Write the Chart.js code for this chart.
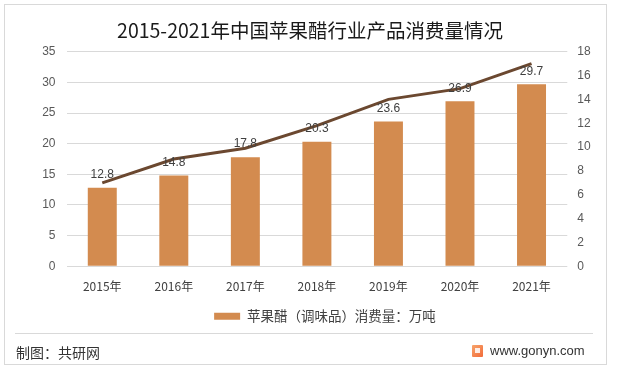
<!DOCTYPE html>
<html>
<head>
<meta charset="utf-8">
<script src="https://cdn.jsdelivr.net/npm/chart.js@4.4.1/dist/chart.umd.min.js"></script>
<style>
  html, body { margin: 0; padding: 0; background: #fff; }
  #wrap { position: relative; width: 620px; height: 375px; overflow: hidden; font-family: "Noto Sans CJK SC", "Noto Sans", sans-serif; }
  #frame { position: absolute; left: 4px; top: 4px; width: 603px; height: 361px; border: 1px solid #d9d9d9; box-sizing: border-box; pointer-events: none; }
  #sep { position: absolute; left: 15px; top: 333px; width: 578px; height: 1px; background: #d9d9d9; }
  #src { position: absolute; left: 16px; top: 342px; font-size: 14px; color: #333; line-height: 20px; }
  #site { position: absolute; left: 490px; top: 341px; font-family: "Liberation Sans", Arial, sans-serif; font-size: 13px; color: #333; line-height: 20px; }
  #logo { position: absolute; left: 472px; top: 345px; width: 11px; height: 12px; background: linear-gradient(135deg, #f7a46b, #f26b3a); border-radius: 1px; }
  #logo:after { content: ""; position: absolute; left: 3px; top: 3px; width: 5px; height: 5px; background: #fff; opacity: 0.85; }
  canvas { position: absolute; left: 0; top: 0; }
</style>
</head>
<body>
<div id="wrap">
  <canvas id="c" width="620" height="337"></canvas>
  <div id="frame"></div>
  <div id="sep"></div>
  <div id="src">制图：共研网</div>
  <div id="logo"></div>
  <div id="site">www.gonyn.com</div>
</div>
<script>
const title = "2015-2021年中国苹果醋行业产品消费量情况";
const categories = ["2015年", "2016年", "2017年", "2018年", "2019年", "2020年", "2021年"];
const consumption = [12.8, 14.8, 17.8, 20.3, 23.6, 26.9, 29.7];
const lineValues = [7.0, 9.0, 9.9, 11.8, 14.0, 14.9, 17.0];
const barLabel = "苹果醋（调味品）消费量：万吨";
const leftTicks = [0, 5, 10, 15, 20, 25, 30, 35];
const rightTicks = [0, 2, 4, 6, 8, 10, 12, 14, 16, 18];

const labelPlugin = {
  id: 'barLabels',
  afterLayout(chart) {
    if (chart.legend) { chart.legend.left += 15; chart.legend.right += 15; }
  },
  afterDatasetsDraw(chart) {
    const ctx = chart.ctx;
    const meta = chart.getDatasetMeta(1);
    ctx.save();
    ctx.font = '12px "Liberation Sans", Arial, sans-serif';
    ctx.fillStyle = '#404040';
    ctx.textAlign = 'center';
    ctx.textBaseline = 'middle';
    meta.data.forEach((el, i) => {
      ctx.fillText(consumption[i].toFixed(1), el.x, el.y - 13);
    });
    ctx.restore();
  }
};

new Chart(document.getElementById('c'), {
  data: {
    labels: categories,
    datasets: [
      {
        type: 'line',
        label: 'line',
        data: lineValues,
        yAxisID: 'y1',
        borderColor: '#6B4830',
        borderWidth: 3,
        pointRadius: 0,
        tension: 0,
        order: 0
      },
      {
        type: 'bar',
        label: barLabel,
        data: consumption,
        yAxisID: 'y',
        backgroundColor: '#D38B4F',
        borderWidth: 0,
        categoryPercentage: 1,
        barPercentage: 0.405,
        order: 1
      }
    ]
  },
  options: {
    responsive: false,
    animation: false,
    devicePixelRatio: 1,
    layout: { padding: { left: 0, right: 0, top: 0, bottom: 4 } },
    plugins: {
      title: {
        display: true,
        text: title,
        color: '#1a1a1a',
        font: { family: '"Noto Sans CJK SC", sans-serif', size: 19.5, weight: 'normal' },
        padding: { top: 19, bottom: 9.3 }
      },
      legend: {
        display: true,
        position: 'bottom',
        labels: {
          filter: (item) => item.datasetIndex === 1,
          boxWidth: 26,
          boxHeight: 7,
          color: '#404040',
          font: { family: '"Noto Sans CJK SC", sans-serif', size: 13.5 },
          padding: 3.25
        }
      },
      tooltip: { enabled: false }
    },
    scales: {
      x: {
        grid: { display: false, drawTicks: false },
        border: { display: false },
        ticks: { color: '#404040', font: { family: '"Noto Sans CJK SC", sans-serif', size: 12 }, padding: 12.8 }
      },
      y: {
        position: 'left',
        min: 0, max: 35,
        afterBuildTicks: (s) => { s.ticks = leftTicks.map(v => ({ value: v })); },
        afterFit: (s) => { s.width = 66.5; },
        grid: { color: '#d9d9d9', lineWidth: 1, drawTicks: false },
        border: { display: false },
        ticks: { color: '#595959', font: { family: '"Liberation Sans", Arial, sans-serif', size: 12 }, padding: 11 }
      },
      y1: {
        position: 'right',
        min: 0, max: 18,
        afterBuildTicks: (s) => { s.ticks = rightTicks.map(v => ({ value: v })); },
        afterFit: (s) => { s.width = 52.7; },
        grid: { display: false, drawTicks: false },
        border: { display: false },
        ticks: { color: '#595959', font: { family: '"Liberation Sans", Arial, sans-serif', size: 12 }, padding: 10 }
      }
    }
  },
  plugins: [labelPlugin]
});
</script>
</body>
</html>
